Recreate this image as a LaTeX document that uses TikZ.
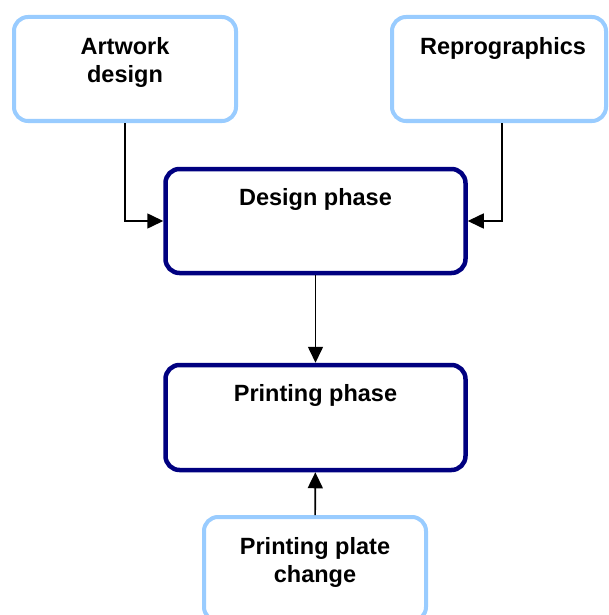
\documentclass[tikz,border=0pt]{standalone}
\usepackage{fontspec}
\setmainfont{Liberation Sans}
\usepackage{xcolor}
\definecolor{skyline}{HTML}{99CCFF}
\definecolor{navyline}{HTML}{000080}
\usetikzlibrary{arrows.meta,positioning}
\tikzset{
  >={Triangle[length=16pt,width=15pt]},
  unit/.style  ={draw=skyline,line width=4pt,fill=white,rounded corners=14pt,
                 minimum width=222pt,minimum height=104pt,inner sep=0pt},
  phase/.style ={draw=navyline,line width=4.5pt,fill=white,rounded corners=14pt,
                 minimum width=300pt,minimum height=104pt,inner sep=0pt},
  lbl/.style   ={font=\fontsize{23.5}{28}\selectfont\bfseries,align=center,
                 inner sep=0pt},
  flow/.style  ={->,draw=black,line width=1.6pt},
}

\begin{document}
\begin{tikzpicture}[x=1pt,y=-1pt]
\useasboundingbox (0,0) rectangle (609,615);
% source units
\node[unit] (art) at (125,69) {};
\node[unit,minimum width=214pt] (repro) at (499,69) {};
% phases
\node[phase] (design) at (315.5,221) {};
\node[phase,minimum height=105pt] (print) at (315.5,417.5) {};
% plate change, runs off the bottom
\node[unit] (plate) at (315,569) {};
\node[lbl,below=22pt of art.north] (artlbl) {Artwork\\design};
\node[lbl,below=22pt of repro.north,xshift=4pt] (reprolbl) {Reprographics};
\node[lbl,below=22pt of design.north] (designlbl) {Design phase};
\node[lbl,below=22pt of print.north] (printlbl) {Printing phase};
\node[lbl,below=22pt of plate.north] (platelbl) {Printing plate\\change};
\draw[flow] (art.south) |- (design.west);
\draw[flow] ([xshift=3pt]repro.south) |- (design.east);
\draw[flow] (design) -- (print);
\draw[flow] (plate) -- (print);
\end{tikzpicture}
\end{document}
